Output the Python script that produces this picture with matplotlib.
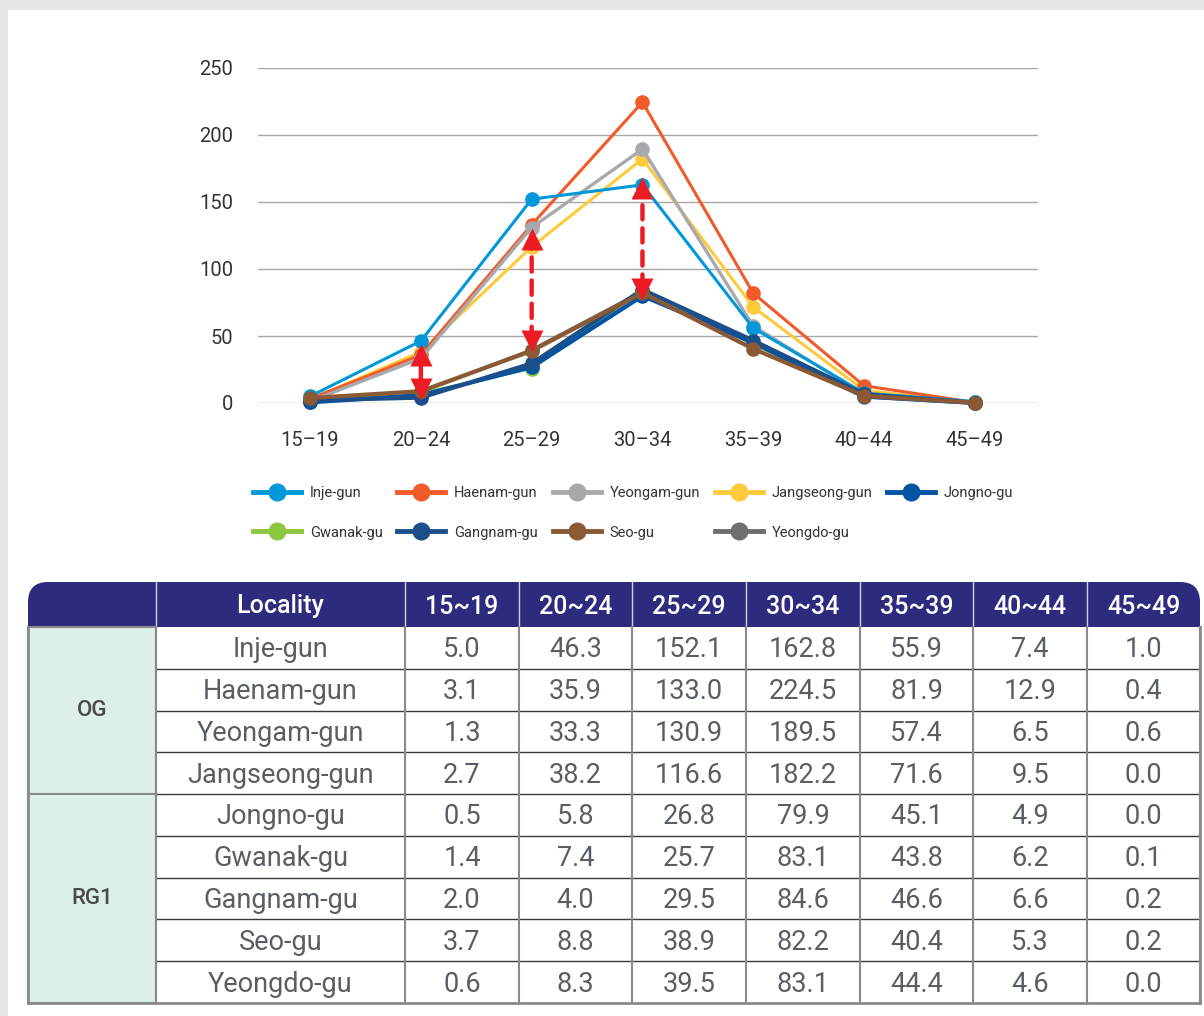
import numpy as np
import matplotlib
matplotlib.use("Agg")
import matplotlib.pyplot as plt
from matplotlib import transforms
from matplotlib.lines import Line2D
from matplotlib.patches import Rectangle, FancyBboxPatch

plt.rcParams['font.family'] = ['Roboto', 'DejaVu Sans']

# --- data (values from the table) ---
age_groups = ["15~19", "20~24", "25~29", "30~34", "35~39", "40~44", "45~49"]
chart_labels = ["15–19", "20–24", "25–29", "30–34", "35–39", "40–44", "45–49"]
localities = ["Inje-gun", "Haenam-gun", "Yeongam-gun", "Jangseong-gun",
              "Jongno-gu", "Gwanak-gu", "Gangnam-gu", "Seo-gu", "Yeongdo-gu"]
groups = ["OG", "RG1"]
group_sizes = [4, 5]

inje = [5.0, 46.3, 152.1, 162.8, 55.9, 7.4, 1.0]
haenam = [3.1, 35.9, 133.0, 224.5, 81.9, 12.9, 0.4]
yeongam = [1.3, 33.3, 130.9, 189.5, 57.4, 6.5, 0.6]
jangseong = [2.7, 38.2, 116.6, 182.2, 71.6, 9.5, 0.0]
jongno = [0.5, 5.8, 26.8, 79.9, 45.1, 4.9, 0.0]
gwanak = [1.4, 7.4, 25.7, 83.1, 43.8, 6.2, 0.1]
gangnam = [2.0, 4.0, 29.5, 84.6, 46.6, 6.6, 0.2]
seo = [3.7, 8.8, 38.9, 82.2, 40.4, 5.3, 0.2]
yeongdo = [0.6, 8.3, 39.5, 83.1, 44.4, 4.6, 0.0]
series = [inje, haenam, yeongam, jangseong, jongno, gwanak, gangnam, seo, yeongdo]

# red gap arrows (age-group index, top, bottom, dashed)
arrow_x = [1, 2, 3]
arrow_top = [44, 131, 169]
arrow_bottom = [2, 38, 77]
arrow_dashed = [False, True, True]

colors = ["#0098D8", "#F15A29", "#A7A9AC", "#FFC93C", "#0054A6",
          "#8DC63F", "#1B4F8A", "#8B5A35", "#6D6E71"]
line_w = [2.2, 2.2, 2.4, 2.2, 3.0, 1.8, 3.0, 3.0, 2.6]
draw_order = [3, 1, 2, 0, 8, 5, 4, 6, 7]
RED = "#ED1C24"

W, H = 1204, 1016
fig = plt.figure(figsize=(W / 100, H / 100), dpi=100, facecolor="#E6E7E9")

# pixel-space overlay for panel + table
bg = fig.add_axes([0, 0, 1, 1], zorder=0)
bg.set_xlim(0, W)
bg.set_ylim(H, 0)
bg.axis("off")
bg.add_patch(Rectangle((8, 10), W - 8, H - 10, facecolor="white", edgecolor="none"))

# --- line chart ---
ax = fig.add_axes([258 / W, 1 - 403 / H, 780 / W, 335 / H], zorder=2)
ax.set_facecolor("none")
x = np.arange(len(age_groups))
for i in draw_order:
    ax.plot(x, series[i], color=colors[i], lw=line_w[i], marker="o", ms=9.5,
            clip_on=False, zorder=3 + draw_order.index(i))
ax.set_xlim(-0.47, 6.57)
ax.set_ylim(0, 250)
ax.set_yticks(range(0, 251, 50))
ax.set_xticks(x, chart_labels)
ax.grid(axis="y", color="#A6A6A6", lw=1)
ax.set_axisbelow(True)
for s in ax.spines.values():
    s.set_visible(False)
ax.tick_params(axis="both", length=0, labelsize=14.5, colors="#333333")
ax.tick_params(axis="y", pad=18)
ax.tick_params(axis="x", pad=20)

# arrows
ms = 16
for xi, top, bot, dashed in zip(arrow_x, arrow_top, arrow_bottom, arrow_dashed):
    ax.annotate("", xy=(xi, top), xytext=(xi, bot),
                arrowprops=dict(arrowstyle="-", color=RED, lw=3.2,
                                linestyle=(0, (3.2, 2)) if dashed else "-",
                                shrinkA=ms / 2, shrinkB=ms / 2),
                zorder=20, annotation_clip=False)
    up = transforms.offset_copy(ax.transData, fig=fig, y=-ms / 2, units="points")
    dn = transforms.offset_copy(ax.transData, fig=fig, y=ms / 2, units="points")
    ax.plot([xi], [top], marker="^", ms=ms, color=RED, mec="none",
            transform=up, zorder=21, clip_on=False)
    ax.plot([xi], [bot], marker="v", ms=ms, color=RED, mec="none",
            transform=dn, zorder=21, clip_on=False)

# legend: row-major order for 5 columns
handles = [Line2D([], [], color=c, lw=3.5, marker="o", ms=12) for c in colors]
leg_order = [0, 5, 1, 6, 2, 7, 3, 8, 4]
fig.legend([handles[i] for i in leg_order], [localities[i] for i in leg_order],
           loc="upper left", bbox_to_anchor=(253 / W, 1 - 486 / H), ncol=5,
           frameon=False, fontsize=10.5, handlelength=3.3, handletextpad=0.6,
           columnspacing=1.0, labelspacing=1.75, borderpad=0, borderaxespad=0,
           labelcolor="#333333")

# --- table ---
col_edges = [28, 156, 405, 519, 632, 746, 860, 973, 1087, 1200]
head_top, head_bot, tab_bot = 582, 627, 1003
n_rows = len(localities)
rh = (tab_bot - head_bot) / n_rows
HEAD = "#2E2B7F"
TXT = "#585E64"
LINE = "#8A8A8A"

bg.add_patch(FancyBboxPatch((col_edges[0], head_top), col_edges[-1] - col_edges[0],
                            head_bot - head_top,
                            boxstyle="round,pad=0,rounding_size=20",
                            facecolor=HEAD, edgecolor="none"))
bg.add_patch(Rectangle((col_edges[0], head_top + 22), col_edges[-1] - col_edges[0],
                       head_bot - head_top - 22, facecolor=HEAD, edgecolor="none"))
for xe in col_edges[1:-1]:
    bg.plot([xe, xe], [head_top, head_bot], color="#D0D0E6", lw=1)
head_texts = ["Locality"] + age_groups
for j, t in enumerate(head_texts):
    cx = (col_edges[j + 1] + col_edges[j + 2]) / 2
    bg.text(cx, (head_top + head_bot) / 2 + 2, t, color="white", fontsize=18,
            fontweight="medium", ha="center", va="center")

# group cells
r0 = 0
for g, n in zip(groups, group_sizes):
    y0 = head_bot + r0 * rh
    bg.add_patch(Rectangle((col_edges[0], y0), col_edges[1] - col_edges[0], n * rh,
                           facecolor="#DCEFE8", edgecolor=LINE, lw=1.5))
    bg.text((col_edges[0] + col_edges[1]) / 2, y0 + n * rh / 2, g, color="#4A4A4A",
            fontsize=16, fontweight="medium", ha="center", va="center")
    r0 += n

# body lines
for r in range(1, n_rows):
    yy = head_bot + r * rh
    bg.plot([col_edges[1], col_edges[-1]], [yy, yy], color="#3A3A3A", lw=1)
for xe in col_edges[1:]:
    bg.plot([xe, xe], [head_bot, tab_bot], color=LINE, lw=1.5)
bg.plot([col_edges[0], col_edges[-1]], [tab_bot, tab_bot], color=LINE, lw=2)
bg.plot([col_edges[0], col_edges[0]], [head_bot, tab_bot], color=LINE, lw=2)
bg.plot([col_edges[-1], col_edges[-1]], [head_bot, tab_bot], color=LINE, lw=2)

for r, (name, vals) in enumerate(zip(localities, series)):
    cy = head_bot + (r + 0.5) * rh + 2
    bg.text((col_edges[1] + col_edges[2]) / 2, cy, name, color=TXT, fontsize=19.5,
            ha="center", va="center")
    for j, v in enumerate(vals):
        cx = (col_edges[j + 2] + col_edges[j + 3]) / 2
        bg.text(cx, cy, f"{v:.1f}", color=TXT, fontsize=19.5,
                ha="center", va="center")

fig.savefig("out.png", dpi=100, facecolor=fig.get_facecolor())
